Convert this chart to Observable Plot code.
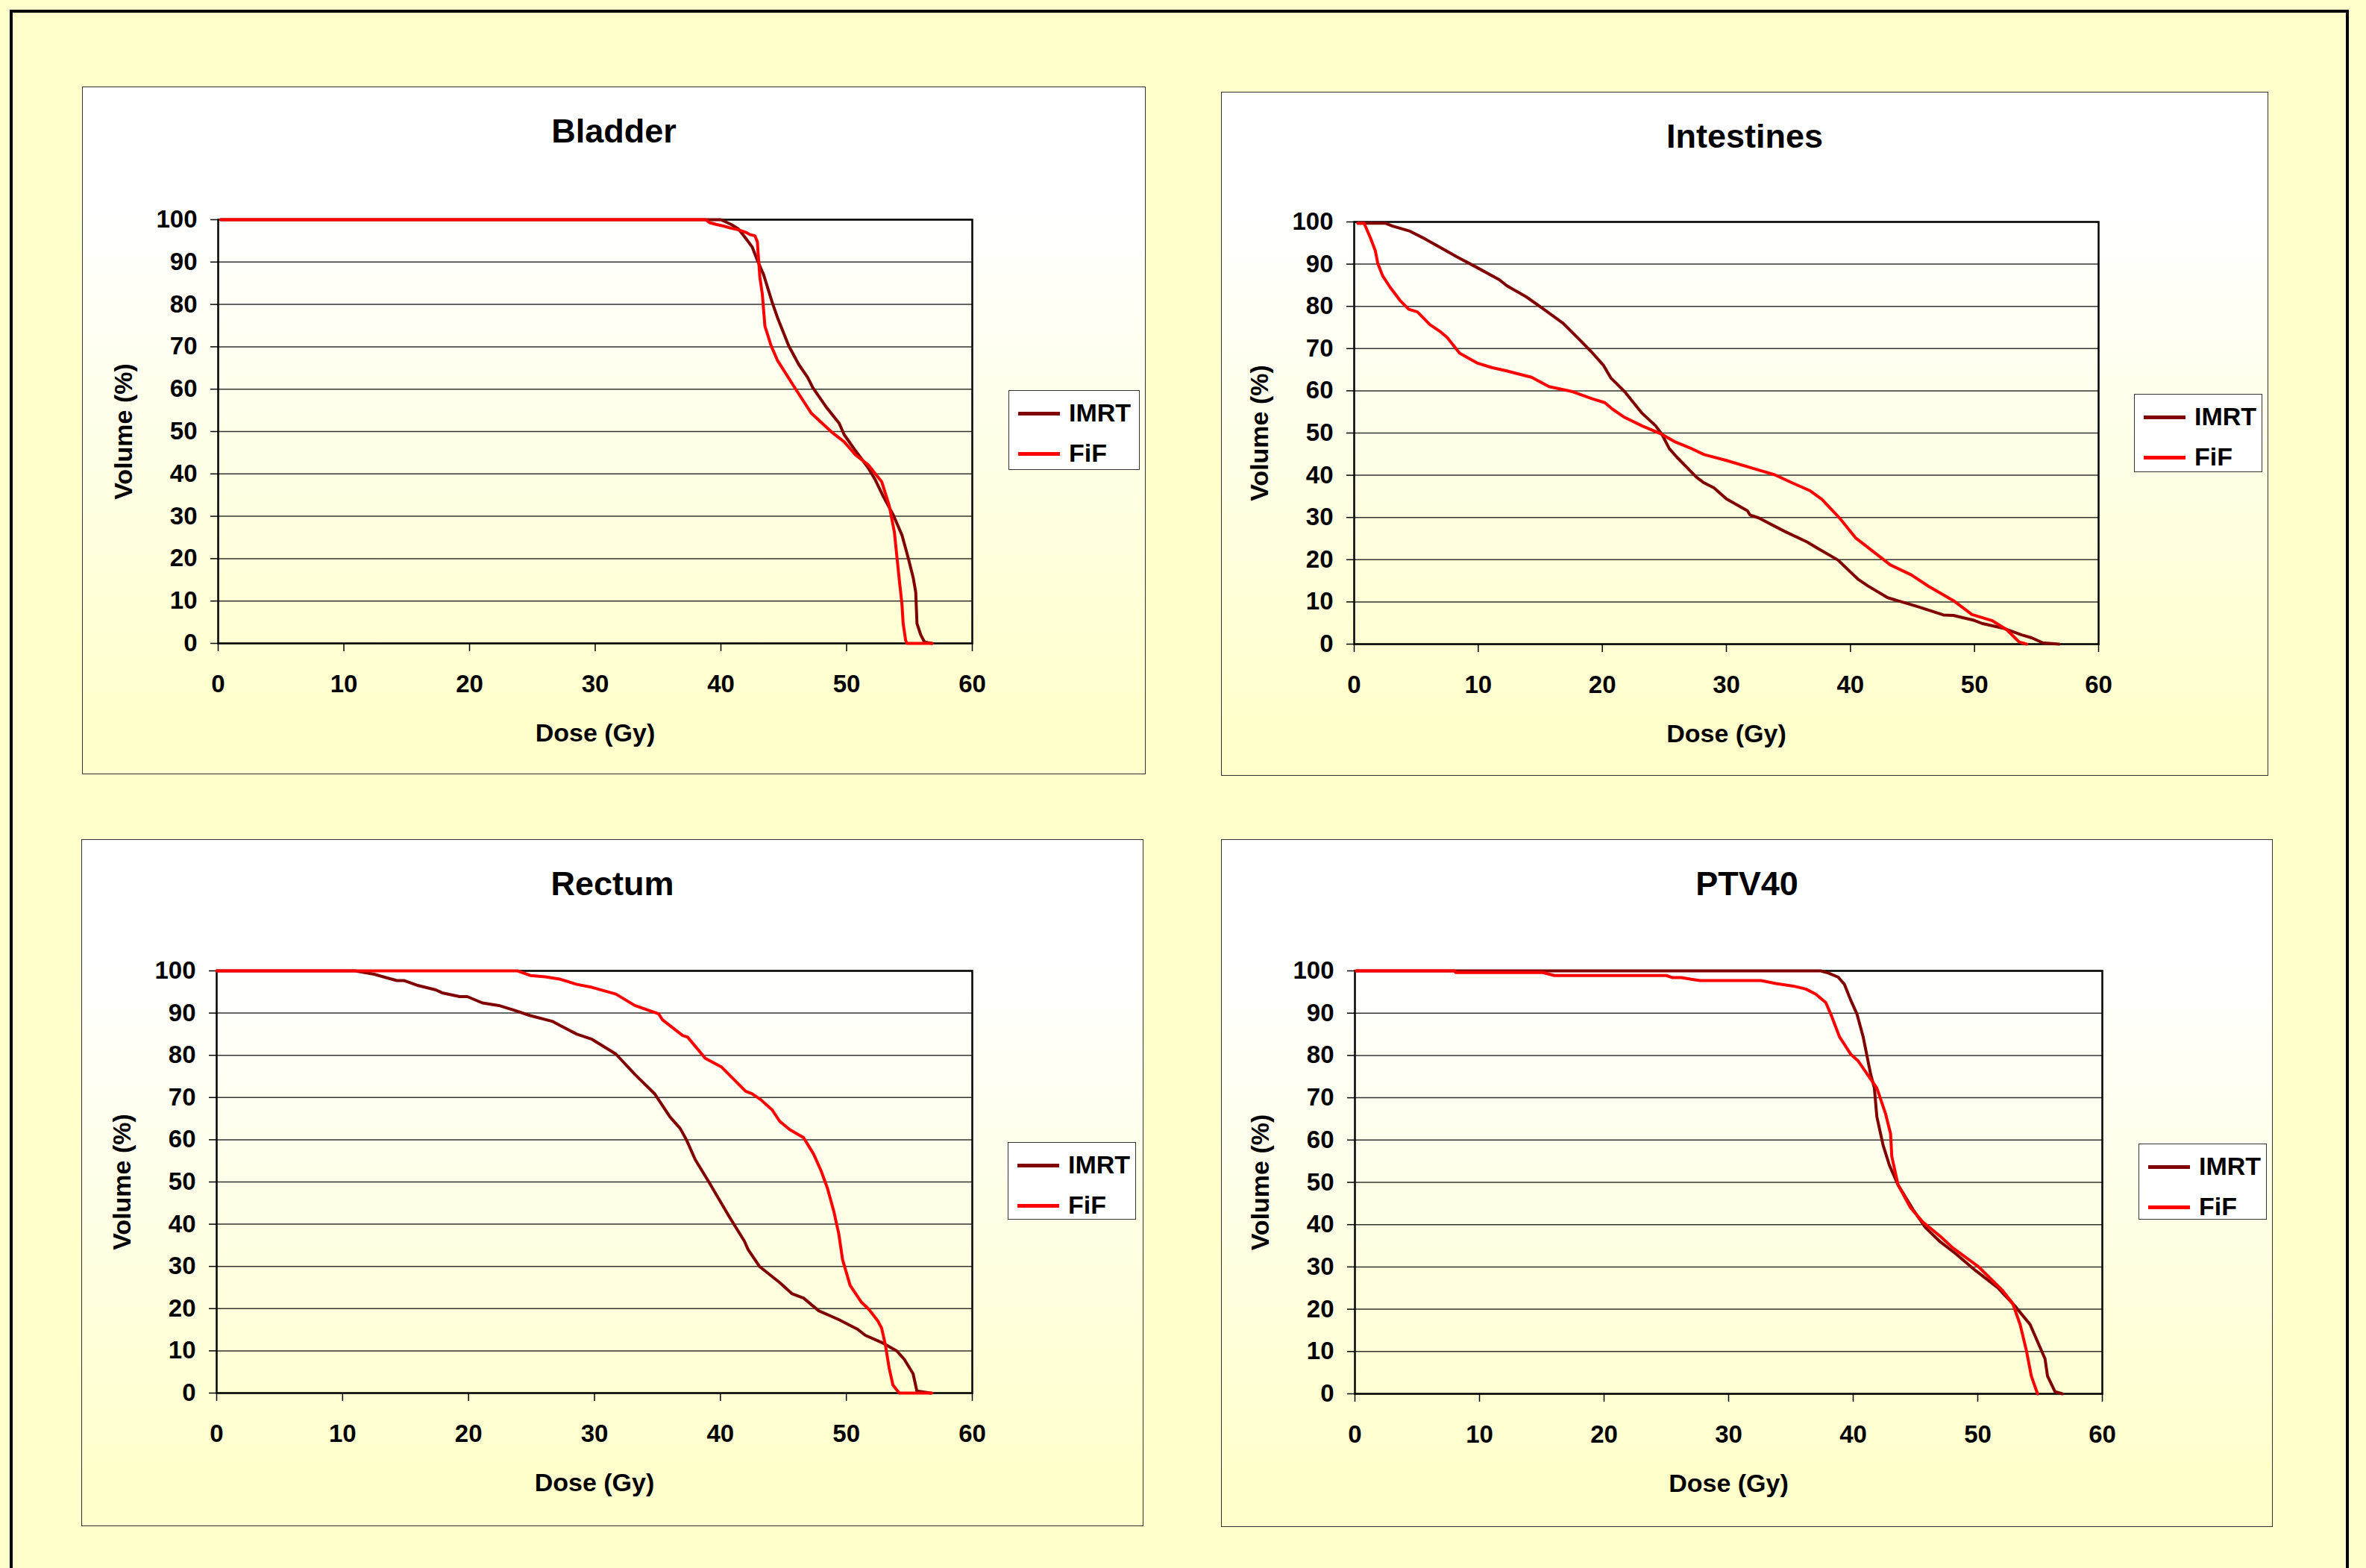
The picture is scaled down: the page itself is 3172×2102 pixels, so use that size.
<!DOCTYPE html>
<html><head><meta charset="utf-8">
<script src="https://cdn.jsdelivr.net/npm/d3@7"></script>
<script src="https://cdn.jsdelivr.net/npm/@observablehq/plot@0.6"></script>
<style>
html,body{margin:0;padding:0;}
body{width:3172px;height:2102px;overflow:hidden;background:#ffffcc;position:relative;font-family:"Liberation Sans",Arial,sans-serif;}
#frame{position:absolute;left:13px;top:13px;width:3128px;height:2300px;border:4px solid #000;box-sizing:content-box;}
.panel{position:absolute;border:1.5px solid #333;box-sizing:border-box;background:linear-gradient(to bottom,#ffffff 0%,#ffffff 18%,#ffffcc 92%);}
.title{position:absolute;font-weight:bold;font-size:45px;line-height:45px;white-space:nowrap;transform:translateX(-50%);color:#000;}
.legend{position:absolute;background:#fff;border:1.5px solid #333;box-sizing:border-box;}
.legend .sw{position:absolute;height:5px;width:56px;left:12px;}
.legend .lb{position:absolute;left:80px;font-weight:bold;font-size:34px;line-height:34px;color:#000;}
svg{position:absolute;}
</style></head>
<body>
<div id="frame"></div>
<script>
const xTicks = [0, 10, 20, 30, 40, 50, 60];
const yTicks = [0, 10, 20, 30, 40, 50, 60, 70, 80, 90, 100];
const seriesNames = ["IMRT", "FiF"];
const titles = ["Bladder", "Intestines", "Rectum", "PTV40"];
const xLabel = "Dose (Gy)";
const yLabel = "Volume (%)";

// [dose (Gy), volume (%)]
const bladderIMRT = [[0.2,100],[40,100],[40.8,98.9],[41.4,97.8],[42.0,95.5],[42.5,93.5],[42.9,90.4],[43.4,87.0],[44.1,80.3],[44.5,76.9],[45.4,70.2],[46.2,65.8],[46.9,62.8],[47.3,60.4],[48.4,55.7],[49.4,52.0],[49.8,49.3],[50.7,45.5],[51.7,41.5],[52.3,38.5],[52.9,34.8],[53.7,30.4],[54.4,25.6],[54.9,20.2],[55.3,15.5],[55.5,12.1],[55.6,4.7],[55.9,2.0],[56.2,0.3],[56.8,0]];
const bladderFiF = [[0.2,100],[38.8,100],[39.1,99.3],[39.6,98.9],[40.2,98.5],[40.8,98.0],[41.4,97.6],[42.0,97.0],[42.3,96.5],[42.7,96.2],[42.9,94.8],[43.0,90.4],[43.1,86.4],[43.3,82.3],[43.5,74.9],[44.0,70.2],[44.5,66.8],[45.8,60.7],[47.2,54.3],[48.8,49.9],[49.8,47.6],[50.5,45.2],[50.7,44.5],[51.7,42.2],[52.8,38.1],[53.4,32.4],[53.8,26.3],[54.2,14.8],[54.4,9.4],[54.5,4.7],[54.7,0.7],[54.8,0],[56.8,0]];

const intestinesIMRT = [[0.3,99.7],[2.5,99.7],[3.1,99],[4.5,97.8],[5.7,96],[7.1,93.7],[8.3,91.7],[9.9,89.2],[11.7,86.3],[12.3,84.9],[13.9,82.2],[15.1,79.7],[16.8,76.1],[18.0,72.6],[19.1,69.3],[20.1,66.0],[20.7,63.0],[21.8,59.8],[23.2,54.7],[24.3,51.7],[24.8,49.7],[25.4,46.3],[26.0,44.3],[27.6,39.5],[28.2,38.2],[29.0,37.0],[30.0,34.4],[31.7,31.6],[31.9,30.6],[32.6,29.9],[34.7,26.7],[36.5,24.2],[37.3,22.8],[39.0,19.9],[40.6,15.4],[41.4,13.8],[43.0,11.0],[44.5,9.7],[45.5,8.8],[47.5,6.9],[48.3,6.8],[50.0,5.6],[50.6,4.9],[52.4,3.7],[53.8,2.2],[54.6,1.5],[55.5,0.3],[56.8,0]];
const intestinesFiF = [[0.3,99.7],[0.8,99.7],[1.3,96.3],[1.7,93.2],[1.9,90.2],[2.3,87.2],[2.9,84.5],[3.7,81.4],[4.4,79.3],[5.1,78.7],[6.1,75.7],[6.9,74.1],[7.5,72.6],[8.5,68.9],[9.9,66.6],[11.1,65.5],[12.3,64.7],[14.3,63.2],[15.7,61.0],[17.6,59.8],[19.2,58.1],[20.2,57.2],[20.8,55.7],[21.8,53.7],[23.2,51.7],[24.8,49.7],[25.8,48.0],[27.2,46.3],[28.2,44.9],[30.0,43.5],[32.4,41.4],[33.9,40.1],[35.3,38.2],[36.7,36.4],[37.7,34.3],[39.2,29.6],[40.4,25.2],[42.2,21.1],[43.2,18.8],[44.9,16.4],[46.3,13.7],[48.3,10.3],[49.8,7.0],[51.4,5.6],[52.6,3.4],[53.6,0.5],[54.2,0]];

const rectumIMRT = [[0,100],[11,100],[12.5,99.2],[14.3,97.7],[14.9,97.7],[15.9,96.6],[17.4,95.5],[17.9,94.8],[19.3,93.9],[19.9,93.9],[21.1,92.4],[22.4,91.8],[23.6,90.7],[24.9,89.4],[26.7,88.0],[27.3,87.0],[28.6,85.0],[29.8,83.8],[31.7,80.3],[33.2,75.5],[34.8,70.8],[36.0,65.4],[36.8,62.7],[37.3,60.0],[38.0,55.3],[39.1,49.9],[40.7,41.8],[41.9,36.0],[42.2,34.0],[43.1,30.0],[44.7,26.2],[45.7,23.5],[46.6,22.5],[47.8,19.5],[49.4,17.4],[50.9,15.1],[51.5,13.7],[52.8,12.0],[54.0,10.0],[54.6,8.0],[55.3,4.6],[55.6,0.5],[56.7,0]];
const rectumFiF = [[0,100],[23.9,100],[24.9,98.9],[26.1,98.6],[27.3,98.0],[28.6,96.8],[29.8,96.1],[31.7,94.5],[33.2,91.8],[35.1,89.8],[35.4,88.4],[37.0,84.7],[37.4,84.3],[38.8,79.3],[40.1,77.2],[41.0,74.5],[42.0,71.5],[42.5,70.9],[43.2,69.5],[44.1,67.1],[44.7,64.4],[45.5,62.4],[46.6,60.5],[47.4,56.6],[48.0,52.6],[48.5,48.5],[49.0,43.1],[49.4,37.7],[49.7,31.6],[50.3,25.5],[51.2,21.5],[51.8,19.8],[52.5,17.1],[52.8,15.4],[53.1,11.4],[53.4,5.9],[53.7,1.9],[54.2,0],[56.8,0]];

const ptv40IMRT = [[0.1,100],[37.4,100],[38.0,99.5],[38.8,98.5],[39.3,96.8],[39.8,93.1],[40.3,89.8],[40.8,84.4],[41.4,75.6],[41.7,72.3],[41.9,65.5],[42.4,58.8],[42.9,54.1],[43.6,49.4],[44.8,43.6],[45.8,39.3],[47.0,35.9],[48.2,33.2],[49.8,29.2],[51.6,25.1],[53.0,20.7],[54.2,16.4],[55.4,8.3],[55.6,4.2],[56.2,0.5],[56.8,0]];
const ptv40FiF = [[0.1,100],[8.0,100],[8.1,99.6],[15.1,99.6],[16.0,98.9],[25.0,98.9],[25.5,98.4],[26.2,98.4],[27.0,98.0],[27.7,97.7],[32.6,97.7],[33.8,97.0],[35.2,96.4],[36.2,95.7],[37.0,94.5],[37.8,92.5],[38.2,89.8],[38.9,84.4],[39.8,80.3],[40.4,78.7],[41.2,75.3],[41.9,72.3],[42.6,66.2],[43.0,61.5],[43.1,56.1],[43.6,49.4],[44.6,44.0],[45.6,40.6],[47.0,37.2],[48.0,34.5],[50.0,30.2],[52.0,24.4],[52.8,21.4],[53.4,16.4],[53.9,10.3],[54.3,4.2],[54.8,0]];

const seriesData = [
  [bladderIMRT, bladderFiF],
  [intestinesIMRT, intestinesFiF],
  [rectumIMRT, rectumFiF],
  [ptv40IMRT, ptv40FiF]
];

// layout (page pixels): panel box, plot area, legend box
const layout = [
  {box:[110,116,1536,1038], plot:[292,294,1303,862], legend:[1352,523,1528,630]},
  {box:[1637,123,3041,1040], plot:[1815,297,2813,863], legend:[2861,528,3033,633]},
  {box:[109,1125,1533,2046], plot:[290,1301,1303,1867], legend:[1351,1531,1523,1635]},
  {box:[1637,1125,3047,2047], plot:[1816,1301,2818,1868], legend:[2867,1533,3039,1635]}
];
const colors = ["#800000", "#ff0000"];

layout.forEach((L, i) => {
  const [bl, bt, br, bb] = L.box;
  const [pl, pt, pr, pb] = L.plot;
  const panel = document.createElement("div");
  panel.className = "panel";
  Object.assign(panel.style, {left: bl + "px", top: bt + "px", width: (br - bl) + "px", height: (bb - bt) + "px"});
  document.body.appendChild(panel);

  const t = document.createElement("div");
  t.className = "title";
  t.textContent = titles[i];
  Object.assign(t.style, {left: ((bl + br) / 2) + "px", top: (bt + 60 - 23) + "px"});
  document.body.appendChild(t);

  const [imrt, fif] = seriesData[i];
  const svg = Plot.plot({
    width: br - bl,
    height: bb - bt,
    marginLeft: pl - bl,
    marginRight: br - pr,
    marginTop: pt - bt,
    marginBottom: bb - pb,
    style: {background: "transparent", color: "#000", fontFamily: "'Liberation Sans', Arial, sans-serif", fontWeight: "bold", fontSize: "33px", overflow: "visible"},
    x: {domain: [0, 60]},
    y: {domain: [0, 100]},
    marks: [
      Plot.gridY(yTicks, {stroke: "#000", strokeOpacity: 0.8, strokeWidth: 1.5}),
      Plot.frame({stroke: "#000", strokeWidth: 2.5}),
      Plot.axisX({ticks: xTicks, tickSize: 11, tickPadding: 31, fontSize: 33, fontWeight: "bold", label: null, strokeWidth: 1.5}),
      Plot.axisY({ticks: yTicks, tickSize: 10, tickPadding: 18, fontSize: 33, fontWeight: "bold", label: null, strokeWidth: 1.5}),
      Plot.line(imrt, {x: d => d[0], y: d => d[1], stroke: colors[0], strokeWidth: 4, strokeLinejoin: "round"}),
      Plot.line(fif, {x: d => d[0], y: d => d[1], stroke: colors[1], strokeWidth: 4, strokeLinejoin: "round"}),
      Plot.text([xLabel], {frameAnchor: "bottom", dy: 121, text: d => d, fontSize: 34, fontWeight: "bold", textAnchor: "middle", lineAnchor: "middle"}),
      Plot.text([yLabel], {frameAnchor: "left", dx: -126, rotate: -90, text: d => d, fontSize: 34, fontWeight: "bold", textAnchor: "middle", lineAnchor: "middle"})
    ]
  });
  svg.style.left = bl + "px";
  svg.style.top = bt + "px";
  document.body.appendChild(svg);

  const [ll, lt, lr, lb] = L.legend;
  const lg = document.createElement("div");
  lg.className = "legend";
  Object.assign(lg.style, {left: ll + "px", top: lt + "px", width: (lr - ll) + "px", height: (lb - lt) + "px"});
  seriesNames.forEach((name, k) => {
    const cy = k === 0 ? 30 : 84;
    const sw = document.createElement("div");
    sw.className = "sw";
    sw.style.top = (cy - 2.5) + "px";
    sw.style.background = colors[k];
    const lbl = document.createElement("div");
    lbl.className = "lb";
    lbl.style.top = (cy - 18) + "px";
    lbl.textContent = name;
    lg.appendChild(sw);
    lg.appendChild(lbl);
  });
  document.body.appendChild(lg);
});
</script>
</body></html>
